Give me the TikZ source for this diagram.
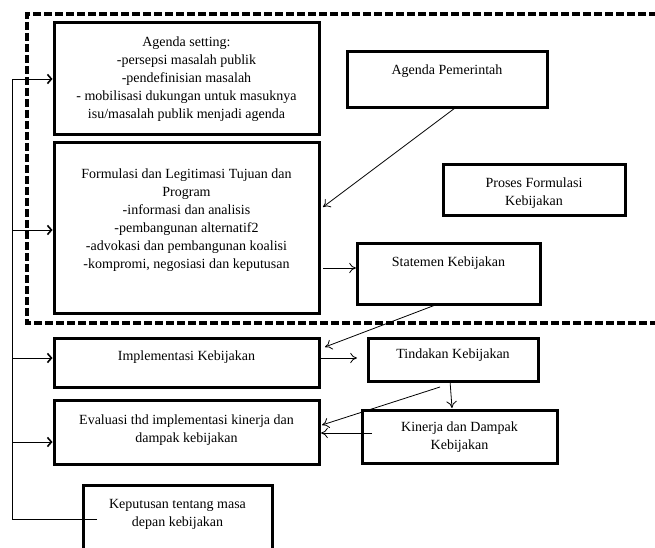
\documentclass[tikz,border=0pt]{standalone}
\usepackage{fontspec}
\setmainfont{Liberation Serif}
\usetikzlibrary{arrows.meta}
\tikzset{
  box/.style={draw, line width=3pt, rectangle, inner sep=0pt},
  txt/.style={align=center, inner sep=0pt, font=\fontsize{14}{18}\selectfont},
  conn/.style={line width=0.8pt, -{To[length=2.4mm,width=3.6mm]}},
  feed/.style={line width=0.8pt, -{Straight Barb[length=1.4mm,width=3.2mm,line width=1.6pt]}},
  plain/.style={line width=0.8pt},
  dashbox/.style={line width=4pt, dash pattern=on 8pt off 3pt}
}
\begin{document}
\begin{tikzpicture}[x=1pt,y=-1pt]
\useasboundingbox (0,0) rectangle (655,548);
\fill[white] (0,0) rectangle (655,548);
% dashed region
\draw[dashbox] (657,14) -- (27,14) -- (27,323) -- (657,323);
% boxes
\node[box, minimum width=265, minimum height=112] (agenda) at (186.5,79) {};
\node[txt] (agendat) at (186.5,79) {Agenda setting:\\-persepsi masalah publik\\-pendefinisian masalah\\- mobilisasi dukungan untuk masuknya\\isu/masalah publik menjadi agenda};
\node[box, minimum width=265, minimum height=170] (form) at (186.5,228) {};
\node[txt] (formt) at (186.5,220) {Formulasi dan Legitimasi Tujuan dan\\Program\\-informasi dan analisis\\-pembangunan alternatif2\\-advokasi dan pembangunan koalisi\\-kompromi, negosiasi dan keputusan};
\node[box, minimum width=200, minimum height=56] (pem) at (447,80) {};
\node[txt] (pemt) at (447,71) {Agenda Pemerintah};
\node[box, minimum width=182, minimum height=50] (proses) at (534,190) {};
\node[txt] (prosest) at (534,193) {Proses Formulasi\\Kebijakan};
\node[box, minimum width=183, minimum height=61] (stat) at (448.5,273.5) {};
\node[txt] (statt) at (448.5,263) {Statemen Kebijakan};
\node[box, minimum width=265, minimum height=49] (impl) at (186.5,362.5) {};
\node[txt] (implt) at (186.5,357) {Implementasi Kebijakan};
\node[box, minimum width=265, minimum height=64] (eval) at (186.5,432) {};
\node[txt] (evalt) at (186.5,430) {Evaluasi thd implementasi kinerja dan\\dampak kebijakan};
\node[box, minimum width=189, minimum height=80] (kep) at (177.5,525) {};
\node[txt] (kept) at (177.5,514) {Keputusan tentang masa\\depan kebijakan};
\node[box, minimum width=170, minimum height=43] (tind) at (453,359.5) {};
\node[txt] (tindt) at (453,355) {Tindakan Kebijakan};
\node[box, minimum width=195, minimum height=53] (kin) at (459.5,436.5) {};
\node[txt] (kint) at (459.5,437) {Kinerja dan Dampak\\Kebijakan};
% feedback loop on the left
\coordinate (kepin) at (97,519);
\coordinate (c1) at (12,519);
\coordinate (c2) at (12,79);
\draw[plain] (kepin) -- (c1) -- (c2);
\draw[feed] (c2) -- (agenda.west |- c2);
\coordinate (c3) at (12,230);
\draw[feed] (c3) -- (form.west |- c3);
\coordinate (c4) at (12,358);
\draw[feed] (c4) -- (impl.west |- c4);
\coordinate (c5) at (12,442);
\draw[feed] (c5) -- (eval.west |- c5);
% connectors
\coordinate (pemo) at (455,108);
\coordinate (formi) at (323,207);
\draw[conn] (pemo) -- (formi);
\coordinate (formo) at (323,268);
\coordinate (stati) at (356,268);
\draw[conn] (formo) -- (stati);
\coordinate (stato) at (438,304);
\coordinate (impli) at (325,347);
\draw[conn] (stato) -- (impli);
\coordinate (implo) at (318,358);
\coordinate (tindi) at (357,358);
\draw[conn] (implo) -- (tindi);
\coordinate (tindo) at (450,381);
\coordinate (kini) at (452,408);
\draw[conn] (tindo) -- (kini);
\coordinate (tindo2) at (440,387);
\coordinate (evali) at (322,425);
\draw[conn] (tindo2) -- (evali);
\coordinate (kino) at (372,433);
\coordinate (evali2) at (321,433);
\draw[conn] (kino) -- (evali2);
\end{tikzpicture}
\end{document}
